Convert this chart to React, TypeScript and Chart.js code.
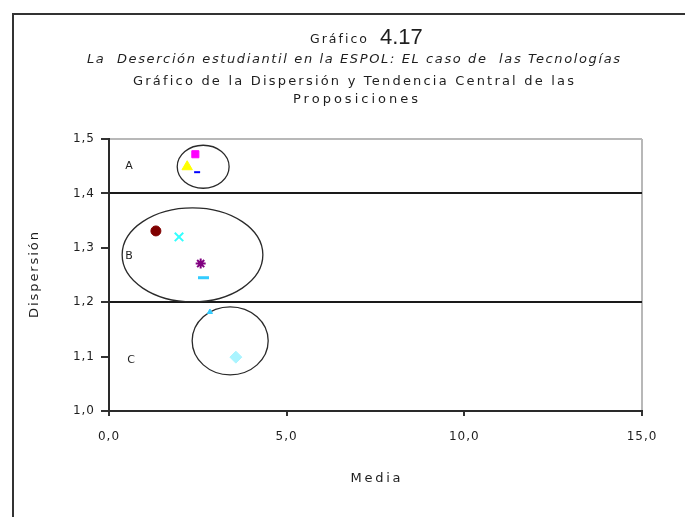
import React, { useEffect, useRef } from 'react';
import { Chart, registerables } from 'chart.js';

Chart.register(...registerables);

// ---------- data ----------
const mediaValues = [2.43, 2.2, 2.48, 1.32, 1.97, 2.58, 2.66, 2.84, 3.57];
const dispersionValues = [1.472, 1.449, 1.439, 1.331, 1.32, 1.271, 1.245, 1.182, 1.099];
const xTickValues = [0, 5, 10, 15];
const yTickValues = [1.0, 1.1, 1.2, 1.3, 1.4, 1.5];
const bandLines = [1.4, 1.2];
const groupLabels = ['A', 'B', 'C'];
const groupCenterMedia = [2.65, 2.35, 3.41];
const groupCenterDispersion = [1.449, 1.287, 1.129];
const groupSpreadMedia = [0.73, 1.98, 1.07];
const groupSpreadDispersion = [0.0395, 0.0864, 0.0625];
const groupLabelMedia = [0.56, 0.56, 0.62];
const groupLabelDispersion = [1.45, 1.285, 1.094];
const titleSmall = 'Gráfico';
const titleNumber = '4.17';
const subtitleItalic = 'La  Deserción estudiantil en la ESPOL: EL caso de  las Tecnologías';
const subtitleLine1 = 'Gráfico de la Dispersión y Tendencia Central de las';
const subtitleLine2 = 'Proposiciones';
const xAxisTitle = 'Media';
const yAxisTitle = 'Dispersión';

// ---------- styles ----------
const pointStyles = ['rect', 'triangle', 'line', 'circle', 'crossRot', 'star', 'line', 'triangle', 'rectRot'];
const pointColors = ['#ff00ff', '#ffff00', '#0000ff', '#800000', '#33ffff', '#800080', '#33ccff', '#33ccff', '#aaf4ff'];
const pointRadii = [5, 6, 3, 5, 6, 5, 5.5, 3, 6];
const pointBorders = [1, 1, 2, 1, 2, 2, 3, 1, 1];
const FONT = '"DejaVu Sans", Verdana, sans-serif';
const TEXT = '#1e1e1e';

const fmt = (v: number) => Number(v).toFixed(1).replace('.', ',');
const near = (a: number, b: number) => Math.abs(a - b) < 1e-6;

function fitText(ctx: any, text: string, left: number, y: number, targetW: number, font: string) {
  ctx.font = font;
  ctx.letterSpacing = '0px';
  const w = ctx.measureText(text).width;
  const n = Array.from(text).length;
  const ls = n > 1 ? (targetW - w) / (n - 1) : 0;
  ctx.letterSpacing = ls + 'px';
  ctx.textAlign = 'left';
  ctx.fillText(text, left, y);
  ctx.letterSpacing = '0px';
}

const decorPlugin = {
  id: 'decor',
  beforeDraw(chart: any) {
    chart.ctx.letterSpacing = '1px';
  },
  beforeDatasetsDraw(chart: any) {
    const { ctx, scales } = chart;
    const xs = scales.x;
    const ys = scales.y;
    ctx.save();
    ctx.letterSpacing = '0px';
    ctx.strokeStyle = '#2a2a2a';
    ctx.lineWidth = 1.3;
    for (let i = 0; i < groupLabels.length; i++) {
      const cx = xs.getPixelForValue(groupCenterMedia[i]);
      const cy = ys.getPixelForValue(groupCenterDispersion[i]);
      const rx = Math.abs(xs.getPixelForValue(groupCenterMedia[i] + groupSpreadMedia[i]) - cx);
      const ry = Math.abs(ys.getPixelForValue(groupCenterDispersion[i] + groupSpreadDispersion[i]) - cy);
      ctx.beginPath();
      ctx.ellipse(cx, cy, rx, ry, 0, 0, Math.PI * 2);
      ctx.stroke();
    }
    ctx.fillStyle = TEXT;
    ctx.font = '11px ' + FONT;
    ctx.textAlign = 'center';
    ctx.textBaseline = 'middle';
    for (let i = 0; i < groupLabels.length; i++) {
      ctx.fillText(groupLabels[i], xs.getPixelForValue(groupLabelMedia[i]), ys.getPixelForValue(groupLabelDispersion[i]));
    }
    ctx.restore();
  },
  afterDraw(chart: any) {
    const { ctx, chartArea } = chart;
    ctx.save();
    // outer frame (top and left)
    ctx.strokeStyle = '#333';
    ctx.lineWidth = 2;
    ctx.beginPath();
    ctx.moveTo(13, 517);
    ctx.lineTo(13, 14);
    ctx.lineTo(685, 14);
    ctx.stroke();

    ctx.fillStyle = TEXT;
    ctx.textBaseline = 'alphabetic';
    fitText(ctx, titleSmall, 310, 43, 57, '12.5px ' + FONT);
    ctx.font = '22px "Liberation Sans", Arial, sans-serif';
    ctx.textAlign = 'left';
    ctx.fillText(titleNumber, 380, 43.5);

    ctx.textBaseline = 'middle';
    fitText(ctx, subtitleItalic, 87, 60, 533, 'italic 13px ' + FONT);
    fitText(ctx, subtitleLine1, 133, 82, 441, '13px ' + FONT);
    fitText(ctx, subtitleLine2, 293, 100, 125, '13px ' + FONT);

    // axis titles
    const midX = (chartArea.left + chartArea.right) / 2;
    fitText(ctx, xAxisTitle, midX - 25, 479, 50, '13px ' + FONT);
    ctx.translate(35, (chartArea.top + chartArea.bottom) / 2);
    ctx.rotate(-Math.PI / 2);
    fitText(ctx, yAxisTitle, -43, 0, 86, '13px ' + FONT);
    ctx.restore();
  },
};

export default function App() {
  const canvasRef = useRef<HTMLCanvasElement | null>(null);

  useEffect(() => {
    const canvas = canvasRef.current;
    if (!canvas) return;
    const chart = new Chart(canvas, {
      type: 'scatter',
      data: {
        datasets: [
          {
            data: mediaValues.map((m, i) => ({ x: m, y: dispersionValues[i] })),
            pointStyle: pointStyles as any,
            backgroundColor: pointColors,
            borderColor: pointColors,
            pointRadius: pointRadii,
            borderWidth: pointBorders,
          },
        ],
      },
      options: {
        responsive: false,
        animation: false,
        events: [],
        layout: { padding: { top: 139, right: 43, bottom: 0, left: 0 } },
        plugins: { legend: { display: false }, tooltip: { enabled: false }, title: { display: false } },
        scales: {
          x: {
            type: 'linear',
            min: xTickValues[0],
            max: xTickValues[xTickValues.length - 1],
            afterBuildTicks: (s: any) => { s.ticks = xTickValues.map((v) => ({ value: v })); },
            afterFit: (s: any) => { s.height = 106; },
            ticks: {
              callback: (v: any) => fmt(v),
              font: { family: FONT, size: 12 },
              color: TEXT,
              padding: 14,
              maxRotation: 0,
            },
            grid: {
              color: (c: any) => (c.tick && near(c.tick.value, 15) ? '#b8b8b8' : 'rgba(0,0,0,0)'),
              lineWidth: 2,
              tickColor: '#333',
              tickLength: 5,
            },
            border: { display: true, color: '#2a2a2a', width: 2 },
          },
          y: {
            type: 'linear',
            min: yTickValues[0],
            max: yTickValues[yTickValues.length - 1],
            afterBuildTicks: (s: any) => { s.ticks = yTickValues.map((v) => ({ value: v })); },
            afterFit: (s: any) => { s.width = 109; },
            ticks: {
              callback: (v: any) => fmt(v),
              font: { family: FONT, size: 12 },
              color: TEXT,
              padding: 6,
            },
            grid: {
              color: (c: any) => {
                const v = c.tick ? c.tick.value : NaN;
                if (bandLines.some((b) => near(b, v))) return '#1a1a1a';
                if (near(v, 1.5)) return '#b8b8b8';
                return 'rgba(0,0,0,0)';
              },
              lineWidth: 2,
              tickColor: '#333',
              tickLength: 8,
            },
            border: { display: true, color: '#2a2a2a', width: 2 },
          },
        },
      },
      plugins: [decorPlugin],
    });
    return () => chart.destroy();
  }, []);

  return (
    <div style={{ position: 'fixed', left: 0, top: 0, width: 685, height: 517, background: '#fff' }}>
      <canvas ref={canvasRef} width={685} height={517} style={{ display: 'block' }} />
    </div>
  );
}
